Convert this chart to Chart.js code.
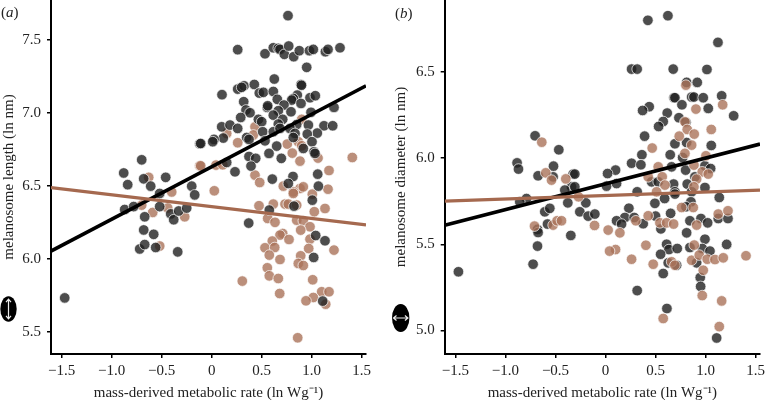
<!DOCTYPE html>
<html>
<head>
<meta charset="utf-8">
<script src="https://cdn.jsdelivr.net/npm/chart.js@4"></script>
<style>
  html, body { margin: 0; padding: 0; background: #fff; }
  #page { position: relative; width: 765px; height: 400px; overflow: hidden; }
  canvas { position: absolute; top: 0; }
  #chartA { left: 0; }
  #chartB { left: 382px; }
  .tag { position: absolute; font: 15px "Liberation Serif", serif; color: #222; }
</style>
</head>
<body>
<div id="page">
  <canvas id="chartA" width="382" height="400"></canvas>
  <canvas id="chartB" width="383" height="400"></canvas>
  <div class="tag" style="left:1px;top:4px">(<i>a</i>)</div>
  <div class="tag" style="left:395px;top:5px">(<i>b</i>)</div>
</div>
<script>
// tick labels
const xTicks = [-1.5, -1, -0.5, 0, 0.5, 1, 1.5];
const lengthTicks = [5.5, 6, 6.5, 7, 7.5];
const diameterTicks = [5, 5.5, 6, 6.5];

// panel a: melanosome length as [rate, ln nm]
const lengthDark = [
  [-0.88,6.59],[-0.84,6.51],[-0.70,6.68],[-0.68,6.55],[-0.61,6.50],[-0.46,6.56],[-0.52,6.45],[-0.20,6.50],[-0.17,6.44],[-0.12,6.79],
  [-0.87,6.34],[-0.78,6.36],[-0.67,6.29],[-0.68,6.20],[-0.58,6.17],[-0.72,6.07],[-0.67,6.10],[-0.56,6.08],[-0.34,6.05],[-1.47,5.735],
  [-0.52,6.36],[-0.41,6.31],[-0.38,6.27],[-0.33,6.33],[-0.25,6.35],
  [0.763,7.667],[0.26,7.434],[0.533,7.406],[0.616,7.447],[0.666,7.443],[0.683,7.436],[0.726,7.402],[0.77,7.459],[0.82,7.386],[0.876,7.427],
  [0.977,7.427],[1.016,7.436],[1.137,7.42],[1.163,7.436],[1.283,7.447],[0.95,7.313],[0.626,7.233],[0.103,7.126],[0.26,7.164],[0.323,7.187],
  [0.3,7.176],[0.426,7.196],[0.476,7.137],[0.517,7.142],[0.616,7.148],[0.656,7.094],[0.893,7.196],[0.898,7.19],[0.856,7.123],[0.816,7.1],
  [0.8,7.089],[0.893,7.066],[0.983,7.105],[1.036,7.119],[0.32,7.078],[0.343,7.021],[0.383,7.002],[0.556,7.039],[0.56,7.05],[0.723,7.055],
  [0.666,7.016],[0.616,6.986],[0.793,7.009],[1.223,7.039],[0.993,7.005],[0.29,6.97],[0.467,6.957],[0.5,6.941],[0.71,6.957],[0.666,6.925],
  [0.85,6.922],[0.967,6.918],[0.1,6.906],[0.183,6.918],[0.26,6.895],[1.123,6.913],[1.21,6.913],[1.056,6.863],[0.956,6.856],[0.51,6.872],
  [0.616,6.872],[0.683,6.895],[0.783,6.895],[0.833,6.861],[0.116,6.829],[0.023,6.82],[0.01,6.804],[-0.11,6.792],[0.35,6.833],[0.533,6.81],
  [0.816,6.833],[0.373,6.82],[0.65,6.774],[1.003,6.804],[0.916,6.758],[0.573,6.724],[0.373,6.703],[0.44,6.69],[0.696,6.69],[1.023,6.735],
  [1.033,6.724],[0.15,6.662],[0.393,6.637],[0.233,6.598],[1.06,6.582],[0.813,6.566],[0.606,6.548],[0.766,6.518],[1.067,6.5],
  [0.576,6.336],[0.37,6.247],[0.823,6.363],[1.006,6.404],[1.04,6.162],[1.133,6.126],[1.02,6.012],[1.11,5.713]
];
const lengthTan = [
  [-0.63,6.56],[-0.40,6.46],[-0.12,6.64],[-0.70,6.37],[-0.59,6.32],[-0.44,6.35],[-0.52,6.09],[-0.27,6.29],
  [0.15,6.861],[0.26,6.797],[0.433,6.906],[0.416,6.85],[0.9,6.957],[0.756,6.788],[0.866,6.804],[0.9,6.776],[0.806,6.726],[0.883,6.671],
  [1.063,6.692],[1.406,6.696],[1.173,6.607],[-0.11,6.639],[0.043,6.644],[0.11,6.646],[0.433,6.575],[0.48,6.525],[0.716,6.5],[0.883,6.484],
  [0.916,6.495],[0.816,6.461],[0.026,6.468],[1.006,6.445],[1.163,6.479],
  [0.473,6.366],[0.616,6.377],[0.733,6.377],[0.766,6.377],[0.816,6.45],[0.85,6.37],[1.026,6.325],[1.133,6.347],[0.56,6.279],[0.633,6.252],
  [0.85,6.267],[0.916,6.263],[0.983,6.222],[0.89,6.199],[0.71,6.176],[0.683,6.165],[0.773,6.135],[0.983,6.137],[0.606,6.124],[0.533,6.078],
  [0.63,6.08],[0.97,6.073],[1.223,6.062],[0.576,6.028],[0.89,6.023],[0.683,5.998],[0.866,5.971],[0.916,5.957],[0.556,5.941],[0.576,5.886],
  [0.666,5.868],[0.306,5.85],[1.01,5.859],[0.68,5.765],[1.1,5.777],[1.173,5.777],[1.016,5.738],[0.943,5.715],[1.14,5.692],[0.86,5.462]
];
const lengthFitDark = [[-1.607,6.055],[1.543,7.187]];
const lengthFitTan = [[-1.607,6.49],[1.543,6.235]];

// panel b: melanosome diameter
const diameterDark = [
  [-0.704,6.13],[-0.467,6.049],[-0.884,5.973],[-0.87,5.937],[-0.52,5.954],[-0.674,5.898],[-0.524,5.892],[-0.324,5.908],[-0.34,5.834],[-0.407,5.815],
  [-0.79,5.766],[-0.857,5.747],[-0.377,5.741],[-0.607,5.689],[-0.557,5.709],[-0.58,5.618],[-0.68,5.587],[-0.674,5.569],[-0.68,5.49],[-0.347,5.552],
  [-0.724,5.385],[-1.47,5.341],
  [0.423,6.8],[0.623,6.827],[1.123,6.672],[0.26,6.517],[0.316,6.517],[0.676,6.517],[1.013,6.515],[0.81,6.44],[0.916,6.44],[1.16,6.362],
  [0.683,6.351],[0.693,6.351],[0.86,6.355],[0.883,6.355],[0.976,6.351],[0.763,6.31],[1.026,6.289],[0.436,6.299],[0.37,6.277],[0.616,6.262],
  [1.28,6.246],[0.733,6.235],[0.576,6.213],[0.53,6.184],[0.803,6.208],[0.39,6.128],[0.693,6.084],[0.81,6.091],[1.056,6.074],[0.363,6.02],
  [0.646,6.02],[0.77,6.004],[0.26,5.971],[0.353,5.962],[0.1,5.931],[0.02,5.911],[-0.307,5.908],[0.66,5.95],[0.8,5.931],[0.993,5.956],
  [1.05,5.94],[0.893,5.892],[0.01,5.838],[0.11,5.853],[0.46,5.863],[0.526,5.863],[0.68,5.85],[0.816,5.85],[0.993,5.83],[0.316,5.805],
  [0.86,5.805],[1.136,5.772],[0.59,5.766],[0.693,5.805],[-0.307,5.834],
  [-0.197,5.741],[-0.257,5.689],[-0.174,5.664],[-0.107,5.676],[0.233,5.71],[0.193,5.656],[0.11,5.637],[0.16,5.618],[0.286,5.656],[0.376,5.62],
  [0.493,5.738],[0.693,5.792],[0.853,5.747],[0.5,5.664],[0.65,5.68],[0.803,5.718],[0.843,5.637],[0.553,5.59],[0.953,5.65],[1.02,5.625],
  [0.81,5.567],[1.126,5.65],[1.223,5.65],[0.993,5.53],[1.21,5.5],[0.61,5.501],[0.633,5.47],[0.716,5.476],[0.843,5.482],[0.966,5.476],
  [1.043,5.461],[0.55,5.443],[0.626,5.393],[0.71,5.379],[0.91,5.393],[0.576,5.331],[0.946,5.308],[0.95,5.256],[0.316,5.232],[0.613,5.128],
  [1.11,4.957]
];
const diameterTan = [
  [-0.637,6.093],[-0.597,5.915],[-0.54,5.873],[-0.397,5.88],[-0.71,5.606],[-0.524,5.612],[-0.484,5.637],[-0.44,5.637],
  [0.803,6.424],[1.17,6.31],[0.903,6.285],[0.793,6.211],[0.816,6.167],[1.056,6.167],[0.886,6.14],[0.736,6.128],[0.86,6.076],[0.466,6.059],
  [0.793,6.028],[1.003,6.014],[0.883,5.96],[0.526,5.95],[0.966,5.921],[1.026,5.908],[0.91,5.879],[0.426,5.892],[0.566,5.892],[0.593,5.844],
  [0.883,5.834],[0.51,5.805],[-0.27,5.776],
  [-0.11,5.61],[0.026,5.583],[0.143,5.567],[0.303,5.637],[0.426,5.666],[0.543,5.625],[0.61,5.625],[0.68,5.618],[0.76,5.714],[0.876,5.714],
  [0.91,5.612],[1.126,5.676],[1.223,5.695],[0.403,5.495],[0.1,5.47],[0.04,5.461],[0.26,5.414],[0.476,5.385],[0.66,5.399],[0.693,5.379],
  [0.86,5.408],[0.936,5.438],[0.886,5.496],[1.016,5.414],[1.093,5.412],[1.176,5.422],[1.403,5.434],[0.976,5.35],[0.966,5.203],[1.16,5.172],
  [1.136,5.023],[0.576,5.07]
];
const diameterFitDark = [[-1.607,5.611],[1.543,6.082]];
const diameterFitTan = [[-1.607,5.751],[1.543,5.815]];

const serif = '"Liberation Serif", serif';
const inkColor = '#222';

function toPoints(pairs) {
  return pairs.map(p => ({ x: p[0], y: p[1] }));
}

function dots(pairs, fill, order) {
  return {
    data: toPoints(pairs),
    backgroundColor: fill,
    borderColor: 'rgba(255,255,255,0.7)',
    borderWidth: 1,
    pointRadius: 5.3,
    order: order
  };
}

function fitLine(pairs, color, width, order) {
  return {
    data: toPoints(pairs),
    showLine: true,
    borderColor: color,
    borderWidth: width,
    pointRadius: 0,
    order: order
  };
}

// little melanosome shape drawn next to the y axis
function melanosomeIcon(cx, cy, rx, ry, vertical) {
  return {
    id: 'melanosomeIcon',
    afterDraw(chart) {
      const ctx = chart.ctx;
      const len = vertical ? ry - 3 : rx - 1.5;
      const dx = vertical ? 0 : 1;
      const dy = vertical ? 1 : 0;
      ctx.save();
      ctx.fillStyle = '#000';
      ctx.beginPath();
      ctx.ellipse(cx, cy, rx, ry, 0, 0, Math.PI * 2);
      ctx.fill();
      ctx.strokeStyle = '#eee';
      ctx.lineWidth = 1.2;
      ctx.beginPath();
      ctx.moveTo(cx - dx * len, cy - dy * len);
      ctx.lineTo(cx + dx * len, cy + dy * len);
      [-1, 1].forEach(s => {
        const tx = cx + s * dx * len;
        const ty = cy + s * dy * len;
        ctx.moveTo(tx - s * dx * 3 - dy * 2.5, ty - s * dy * 3 - dx * 2.5);
        ctx.lineTo(tx, ty);
        ctx.lineTo(tx - s * dx * 3 + dy * 2.5, ty - s * dy * 3 + dx * 2.5);
      });
      ctx.stroke();
      ctx.restore();
    }
  };
}

function drawPanel(id, cfg) {
  const axisLine = { color: '#000', width: 2 };
  const tickMarks = { drawOnChartArea: false, color: '#000', lineWidth: 1.5, tickLength: 4 };
  new Chart(document.getElementById(id), {
    type: 'scatter',
    data: {
      datasets: [
        dots(cfg.dark, 'rgba(32,32,32,0.8)', cfg.darkOrder),
        dots(cfg.tan, 'rgba(170,115,90,0.8)', cfg.tanOrder),
        fitLine(cfg.fitDark, '#000', 3.6, 2),
        fitLine(cfg.fitTan, '#a5694f', 3.2, 1)
      ]
    },
    options: {
      responsive: false,
      animation: false,
      layout: { autoPadding: false, padding: { left: cfg.padLeft, right: cfg.padRight, top: 0, bottom: -2 } },
      plugins: { legend: { display: false }, tooltip: { enabled: false } },
      scales: {
        x: {
          type: 'linear',
          min: -1.607,
          max: 1.543,
          border: axisLine,
          grid: tickMarks,
          afterBuildTicks: s => { s.ticks = xTicks.map(v => ({ value: v })); },
          afterFit: s => { s.height = 48; s.paddingLeft = 0; s.paddingRight = 0; },
          ticks: {
            color: inkColor,
            font: { family: serif, size: 15 },
            padding: 4,
            maxRotation: 0,
            autoSkip: false,
            callback: v => (v === 0 ? '0' : v.toFixed(1).replace('-', '\u2212'))
          },
          title: {
            display: true,
            text: 'mass-derived metabolic rate (ln Wg\u207B\u00B9)',
            color: inkColor,
            font: { family: serif, size: 15 },
            padding: 0
          }
        },
        y: {
          type: 'linear',
          min: cfg.yMin,
          max: cfg.yMax,
          border: axisLine,
          grid: tickMarks,
          afterBuildTicks: s => { s.ticks = cfg.yTicks.map(v => ({ value: v })); },
          afterFit: s => { s.width = cfg.yWidth; s.paddingTop = 0; s.paddingBottom = 0; },
          ticks: {
            color: inkColor,
            font: { family: serif, size: 15 },
            padding: 6,
            autoSkip: false,
            callback: v => v.toFixed(1)
          },
          title: {
            display: true,
            text: cfg.yTitle,
            color: inkColor,
            font: { family: serif, size: 15 },
            padding: 0
          }
        }
      }
    },
    plugins: [cfg.icon]
  });
}

drawPanel('chartA', {
  dark: lengthDark, tan: lengthTan, fitDark: lengthFitDark, fitTan: lengthFitTan,
  darkOrder: 3, tanOrder: 4,
  yTicks: lengthTicks, yMin: 5.351, yMax: 7.774, yTitle: 'melanosome length (ln nm)',
  padLeft: 0, padRight: 16, yWidth: 51,
  icon: melanosomeIcon(8.5, 309, 8.2, 12.8, true)
});

drawPanel('chartB', {
  dark: diameterDark, tan: diameterTan, fitDark: diameterFitDark, fitTan: diameterFitTan,
  darkOrder: 4, tanOrder: 3,
  yTicks: diameterTicks, yMin: 4.864, yMax: 6.918, yTitle: 'melanosome diameter (ln nm)',
  padLeft: 10, padRight: 5, yWidth: 52.7,
  icon: melanosomeIcon(18.7, 318, 8.7, 14, false)
});
</script>
</body>
</html>
